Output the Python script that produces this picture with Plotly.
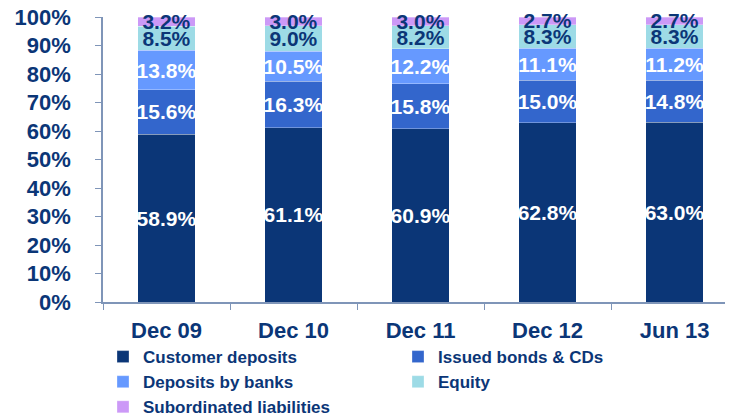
import plotly.graph_objects as go

categories = ["Dec 09", "Dec 10", "Dec 11", "Dec 12", "Jun 13"]
customer_deposits = [58.9, 61.1, 60.9, 62.8, 63.0]
issued_bonds = [15.6, 16.3, 15.8, 15.0, 14.8]
deposits_by_banks = [13.8, 10.5, 12.2, 11.1, 11.2]
equity = [8.5, 9.0, 8.2, 8.3, 8.3]
subordinated = [3.2, 3.0, 3.0, 2.7, 2.7]
y_ticks = [0, 10, 20, 30, 40, 50, 60, 70, 80, 90, 100]
y_tick_labels = [f"{v}%" for v in y_ticks]

NAVY = "#0b3677"
FONT = "Liberation Sans, Arial, sans-serif"

series = [
    ("Customer deposits", customer_deposits, "#0b3677", "white"),
    ("Issued bonds & CDs", issued_bonds, "#3366cc", "white"),
    ("Deposits by banks", deposits_by_banks, "#6699ff", "white"),
    ("Equity", equity, "#9ddbe6", NAVY),
    ("Subordinated liabilities", subordinated, "#cc99f7", NAVY),
]

fig = go.Figure()
for name, vals, color, tcol in series:
    fig.add_trace(go.Bar(
        name=name, x=categories, y=vals,
        marker=dict(color=color, line=dict(color="rgba(255,255,255,0.5)", width=0.6)),
        text=[f"{v:.1f}%" for v in vals],
        textposition="inside", insidetextanchor="middle",
        textangle=0, constraintext="none", cliponaxis=False,
        textfont=dict(family=FONT, size=21, color=tcol, weight="bold"),
        hoverinfo="skip",
    ))

fig.update_layout(
    barmode="stack", barnorm="percent", bargap=0.546,
    width=733, height=417,
    margin=dict(l=95, r=8, t=9, b=123, autoexpand=False),
    plot_bgcolor="white", paper_bgcolor="white",
    font=dict(family=FONT, color=NAVY),
    legend=dict(
        orientation="h", x=0.0, xanchor="left",
        y=-0.13, yanchor="top",
        traceorder="normal",
        entrywidth=250, entrywidthmode="pixels",
        font=dict(family=FONT, size=17, color=NAVY, weight="bold"),
        itemwidth=30, tracegroupgap=0,
    ),
    xaxis=dict(
        range=[-0.5, 4.46], showline=True, linecolor="#7f95b8", linewidth=1.5,
        ticks="outside", tickson="boundaries", ticklen=6, tickcolor="#7f95b8",
        tickfont=dict(family=FONT, size=22, color=NAVY, weight="bold"),
        ticklabelstandoff=8, ticklabeloverflow="allow",
        showgrid=False, fixedrange=True,
    ),
    yaxis=dict(
        range=[0, 100], tickvals=y_ticks, ticktext=y_tick_labels,
        showline=True, linecolor="#7f95b8", linewidth=1.5,
        ticks="outside", ticklen=6, tickcolor="#7f95b8",
        tickfont=dict(family=FONT, size=22, color=NAVY, weight="bold"),
        ticklabelstandoff=20, ticklabeloverflow="allow",
        showgrid=False, zeroline=False, fixedrange=True,
    ),
)

fig.write_html("out.html")
